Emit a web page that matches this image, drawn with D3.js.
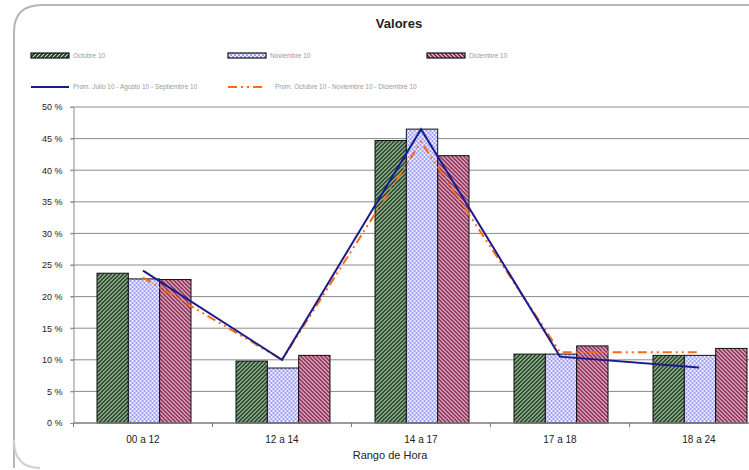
<!DOCTYPE html>
<html>
<head>
<meta charset="utf-8">
<script src="https://cdn.jsdelivr.net/npm/d3@7"></script>
<style>
  body { margin: 0; background: #fff; }
  svg { display: block; font-family: "Liberation Sans", Arial, sans-serif; }
</style>
</head>
<body>
<div id="chart"></div>
<script>
// categories and series values (percent)
const categories = ["00 a 12", "12 a 14", "14 a 17", "17 a 18", "18 a 24"]
const barSeries = ["Octubre 10", "Noviembre 10", "Diciembre 10"]
const octubre = [23.7, 9.8, 44.7, 10.9, 10.7]
const noviembre = [22.8, 8.7, 46.5, 10.9, 10.7]
const diciembre = [22.7, 10.7, 42.3, 12.2, 11.8]
const promJulSep = [24.1, 10.0, 46.5, 10.5, 8.8]
const promOctDic = [23.0, 10.0, 44.5, 11.2, 11.2]
const lineSeries = ["Prom. Julio 10 - Agosto 10 - Septiembre 10", "Prom. Octubre 10 - Noviembre 10 - Diciembre 10"]
const yTicks = [0, 5, 10, 15, 20, 25, 30, 35, 40, 45, 50]

const barValues = [octubre, noviembre, diciembre]
const lineValues = [promJulSep, promOctDic]
const fills = ["url(#pGreen)", "url(#pBlue)", "url(#pRed)"]
const lineColors = ["#1b1b8a", "#ff6a13"]
const lineDash = [null, "9,4,2,4,2,4"]

const width = 749
const height = 470
const plotLeft = 73.5
const plotBottom = 423
const plotTop = 107
const catWidth = 139

const svg = d3.select("#chart")
  .append("svg")
  .attr("width", width)
  .attr("height", height)

// patterns
const defs = svg.append("defs")
const pg = defs.append("pattern").attr("id", "pGreen")
  .attr("patternUnits", "userSpaceOnUse").attr("width", 4).attr("height", 4)
pg.append("rect").attr("width", 4).attr("height", 4).attr("fill", "#fff")
pg.append("path").attr("d", "M-1,1 l2,-2 M0,4 l4,-4 M3,5 l2,-2")
  .attr("stroke", "#1c451c").attr("stroke-width", 2)

const pr = defs.append("pattern").attr("id", "pRed")
  .attr("patternUnits", "userSpaceOnUse").attr("width", 4).attr("height", 4)
pr.append("rect").attr("width", 4).attr("height", 4).attr("fill", "#fbe8ef")
pr.append("path").attr("d", "M-1,3 l2,2 M0,0 l4,4 M3,-1 l2,2")
  .attr("stroke", "#8a2552").attr("stroke-width", 1.9)

const pb = defs.append("pattern").attr("id", "pBlue")
  .attr("patternUnits", "userSpaceOnUse").attr("width", 4).attr("height", 4)
pb.append("rect").attr("width", 4).attr("height", 4).attr("fill", "#eeeeff")
pb.append("circle").attr("cx", 1).attr("cy", 1).attr("r", 1).attr("fill", "#8484f0")
pb.append("circle").attr("cx", 3).attr("cy", 3).attr("r", 1).attr("fill", "#8484f0")

// frame
svg.append("path")
  .attr("d", "M14,468 L14,32 Q14,5 42,5 L760,5")
  .attr("fill", "none")
  .attr("stroke", "#b5b5b5")
  .attr("stroke-width", 2)
svg.append("path")
  .attr("d", "M14,440 Q14,468 40,468")
  .attr("fill", "none")
  .attr("stroke", "#d0d0d0")
  .attr("stroke-width", 2)

// title
svg.append("text")
  .attr("x", 399).attr("y", 28)
  .attr("text-anchor", "middle")
  .attr("font-size", 13).attr("font-weight", "bold")
  .attr("fill", "#222")
  .text("Valores")

// scales
const x0 = d3.scaleBand()
  .domain(categories)
  .range([plotLeft, plotLeft + catWidth * categories.length])

const groupW = 94
const x1 = d3.scaleBand()
  .domain(barSeries)
  .range([(x0.bandwidth() - groupW) / 2 + 1, (x0.bandwidth() + groupW) / 2 + 1])

const y = d3.scaleLinear()
  .domain([0, 50])
  .range([plotBottom, plotTop])

// grid
svg.append("g")
  .selectAll("line")
  .data(yTicks.filter((d) => d > 0))
  .join("line")
  .attr("x1", plotLeft - 3).attr("x2", width)
  .attr("y1", (d) => y(d)).attr("y2", (d) => y(d))
  .attr("stroke", "#8a8a8a")
  .attr("stroke-width", 1)

// y axis
const yAxis = svg.append("g")
  .attr("transform", `translate(${plotLeft},0)`)
  .call(d3.axisLeft(y).tickValues(yTicks).tickSize(3).tickPadding(8)
    .tickFormat((d) => `${d} %`))
yAxis.select(".domain").attr("stroke", "#8a8a8a")
yAxis.selectAll(".tick line").attr("stroke", "#8a8a8a")
yAxis.selectAll("text").attr("font-size", 9).attr("fill", "#222")

// bars
const groups = svg.append("g")
  .selectAll("g")
  .data(categories)
  .join("g")
  .attr("transform", (d) => `translate(${x0(d)},0)`)

groups.selectAll("rect")
  .data((d, i) => barSeries.map((s, j) => ({ s, j, v: barValues[j][i] })))
  .join("rect")
  .attr("x", (d) => x1(d.s))
  .attr("y", (d) => y(d.v))
  .attr("width", x1.bandwidth())
  .attr("height", (d) => y(0) - y(d.v))
  .attr("fill", (d) => fills[d.j])
  .attr("stroke", "#111")
  .attr("stroke-width", 1)

// x axis
const xAxis = svg.append("g")
  .attr("transform", `translate(0,${plotBottom})`)
xAxis.append("line")
  .attr("x1", plotLeft).attr("x2", width)
  .attr("stroke", "#7a7a7a").attr("stroke-width", 1.5)
xAxis.selectAll(".tk")
  .data(categories)
  .join("line")
  .attr("class", "tk")
  .attr("x1", (d) => x0(d)).attr("x2", (d) => x0(d))
  .attr("y1", 0).attr("y2", 4)
  .attr("stroke", "#7a7a7a")
xAxis.selectAll("text")
  .data(categories)
  .join("text")
  .attr("x", (d) => x0(d) + x0.bandwidth() / 2)
  .attr("y", 20)
  .attr("text-anchor", "middle")
  .attr("font-size", 10)
  .attr("fill", "#222")
  .text((d) => d)

svg.append("text")
  .attr("x", 390).attr("y", 459)
  .attr("text-anchor", "middle")
  .attr("font-size", 11)
  .attr("fill", "#222")
  .text("Rango de Hora")

// lines
const lineGen = d3.line()
  .x((d, i) => x0(categories[i]) + x0.bandwidth() / 2)
  .y((d) => y(d))

lineValues.slice().reverse().forEach((vals, r) => {
  const k = lineValues.length - 1 - r
  svg.append("path")
    .datum(vals)
    .attr("fill", "none")
    .attr("stroke", lineColors[k])
    .attr("stroke-width", 2)
    .attr("stroke-dasharray", lineDash[k])
    .attr("d", lineGen)
})

// legend
const legendBars = [31, 228, 427]
barSeries.forEach((s, j) => {
  svg.append("rect")
    .attr("x", legendBars[j]).attr("y", 53)
    .attr("width", 38).attr("height", 5)
    .attr("fill", fills[j])
    .attr("stroke", "#111").attr("stroke-width", 1.2)
  svg.append("text")
    .attr("x", legendBars[j] + 42).attr("y", 58)
    .attr("font-size", 6.5).attr("fill", "#999")
    .text(s)
})
const legendLines = [31, 228]
lineSeries.forEach((s, k) => {
  svg.append("line")
    .attr("x1", legendLines[k]).attr("x2", legendLines[k] + 38)
    .attr("y1", 87).attr("y2", 87)
    .attr("stroke", lineColors[k]).attr("stroke-width", 2)
    .attr("stroke-dasharray", lineDash[k])
  svg.append("text")
    .attr("x", legendLines[k] + (k ? 47 : 42)).attr("y", 89)
    .attr("font-size", 6.5).attr("fill", "#999")
    .text(s)
})
</script>
</body>
</html>
